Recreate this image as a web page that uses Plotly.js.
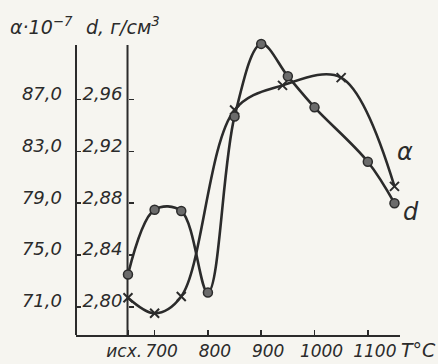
<!DOCTYPE html>
<html>
<head>
<meta charset="utf-8">
<script src="https://cdn.plot.ly/plotly-3.0.1.min.js"></script>
<style>
  html, body { margin: 0; padding: 0; background: #f6f5f0; }
  #chart { width: 438px; height: 364px; }
</style>
</head>
<body>
<div id="chart"></div>
<script>
// Temperatures (°C); 650 stands for the initial state "исх."
const tempD = [650, 700, 750, 800, 850, 900, 950, 1000, 1100, 1150];
const densityD = [2.825, 2.875, 2.874, 2.811, 2.947, 3.003, 2.978, 2.954, 2.912, 2.880];
const tempA = [650, 700, 750, 850, 940, 1050, 1150];
const alphaA = [71.7, 70.5, 71.8, 86.2, 88.1, 88.7, 80.3];

const xTickVals = [650, 700, 800, 900, 1000, 1100];
const xTickText = ['исх.\u00A0\u00A0\u00A0\u00A0', '700', '800', '900', '1000', '1100'];
const alphaTickVals = [71, 75, 79, 83, 87];
const alphaTickText = ['71,0', '75,0', '79,0', '83,0', '87,0'];
const dTickVals = [2.80, 2.84, 2.88, 2.92, 2.96];
const dTickText = ['2,80', '2,84', '2,88', '2,92', '2,96'];

const ink = '#2b2b2b';
const fontFam = 'DejaVu Sans, sans-serif';
const dAxisPos = 0.159;
const axisTop = 0.9667;

const traces = [
  {
    x: tempD, y: densityD, yaxis: 'y2', type: 'scatter', mode: 'lines+markers',
    line: { color: ink, width: 2.6, shape: 'spline', smoothing: 1.0 },
    marker: { symbol: 'circle', size: 9, color: '#6b6b6b', line: { color: ink, width: 1.5 } },
    cliponaxis: false, showlegend: false, name: 'd'
  },
  {
    x: tempA, y: alphaA, yaxis: 'y', type: 'scatter', mode: 'lines+markers',
    line: { color: ink, width: 2.6, shape: 'spline', smoothing: 1.0 },
    marker: { symbol: 'x-thin-open', size: 9, color: ink, line: { color: ink, width: 2 } },
    cliponaxis: false, showlegend: false, name: 'α'
  }
];

const yTickFont = { family: fontFam, size: 18, color: ink, style: 'italic' };

const layout = {
  width: 438, height: 364,
  margin: { l: 76, r: 38, t: 35, b: 29 },
  paper_bgcolor: '#f6f5f0', plot_bgcolor: 'rgba(0,0,0,0)',
  font: { family: fontFam, color: ink, size: 18, style: 'italic' },
  xaxis: {
    range: [552.5, 1160.4], showgrid: false, zeroline: false,
    showline: true, linecolor: ink, linewidth: 2,
    ticks: 'inside', ticklen: 5, tickwidth: 1.5, tickcolor: ink,
    tickvals: xTickVals, ticktext: xTickText, ticklabelshift: 7, tickangle: 0,
    tickfont: { family: fontFam, size: 17, color: ink, style: 'italic' }
  },
  yaxis: {
    range: [68.82, 91.99], showgrid: false, zeroline: false, showline: false,
    ticks: 'inside', ticklen: 5, tickwidth: 1.5, tickcolor: ink,
    tickvals: alphaTickVals, ticktext: alphaTickText, ticklabelshift: -6, ticklabelstandoff: 13,
    tickfont: yTickFont
  },
  yaxis2: {
    range: [2.77822, 3.00988], overlaying: 'y', anchor: 'free', position: dAxisPos, side: 'left',
    showgrid: false, zeroline: false, showline: false,
    ticks: 'inside', ticklen: 5, tickwidth: 1.5, tickcolor: ink,
    tickvals: dTickVals, ticktext: dTickText, ticklabelshift: -6, ticklabelstandoff: 5,
    tickfont: yTickFont
  },
  shapes: [
    { type: 'line', xref: 'paper', yref: 'paper', x0: 0, x1: 0, y0: 0, y1: axisTop,
      line: { color: ink, width: 2 }, layer: 'below' },
    { type: 'line', xref: 'paper', yref: 'paper', x0: dAxisPos, x1: dAxisPos, y0: 0, y1: axisTop,
      line: { color: ink, width: 2 }, layer: 'below' }
  ],
  annotations: [
    { xref: 'paper', yref: 'paper', x: -0.21, y: 0.985, xanchor: 'left', yanchor: 'bottom',
      text: 'α·10<sup>−7</sup>', showarrow: false,
      font: { family: fontFam, size: 19, color: ink, style: 'italic' } },
    { xref: 'paper', yref: 'paper', x: 0.024, y: 0.985, xanchor: 'left', yanchor: 'bottom',
      text: 'd, г/см<sup>3</sup>', showarrow: false,
      font: { family: fontFam, size: 19, color: ink, style: 'italic' } },
    { xref: 'paper', yref: 'paper', x: 0.997, y: -0.05, xanchor: 'left', yanchor: 'middle',
      text: 'T°C', showarrow: false,
      font: { family: fontFam, size: 19, color: ink, style: 'italic' } },
    { xref: 'paper', yref: 'paper', x: 1.015, y: 0.61, xanchor: 'center', yanchor: 'middle',
      text: 'α', showarrow: false,
      font: { family: fontFam, size: 24, color: ink, style: 'italic' } },
    { xref: 'paper', yref: 'paper', x: 1.034, y: 0.41, xanchor: 'center', yanchor: 'middle',
      text: 'd', showarrow: false,
      font: { family: fontFam, size: 24, color: ink, style: 'italic' } }
  ]
};

Plotly.newPlot('chart', traces, layout, { staticPlot: true, displayModeBar: false });
</script>
</body>
</html>
